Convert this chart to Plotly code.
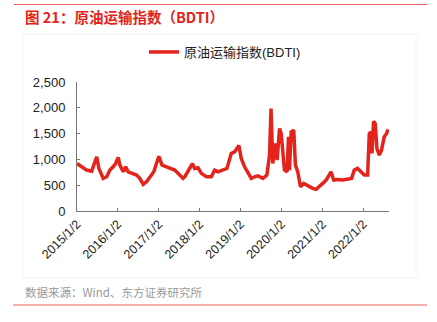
import plotly.graph_objects as go

dates = [
    "2015-01-02", "2015-02-13", "2015-03-29", "2015-05-13", "2015-06-02", "2015-06-27",
    "2015-07-17", "2015-08-24", "2015-09-24", "2015-10-23", "2015-11-21", "2015-12-13",
    "2016-01-05", "2016-01-20", "2016-02-19", "2016-03-11", "2016-04-03", "2016-05-18",
    "2016-06-17", "2016-07-16", "2016-08-15", "2016-09-14", "2016-10-13", "2016-11-18",
    "2016-12-12", "2017-01-02", "2017-01-31", "2017-03-11", "2017-04-25", "2017-05-24",
    "2017-07-08", "2017-08-06", "2017-08-21", "2017-09-29", "2017-10-29", "2017-11-18",
    "2017-12-18", "2018-01-17", "2018-03-03", "2018-04-16", "2018-05-16", "2018-06-14",
    "2018-07-29", "2018-09-02", "2018-10-11", "2018-11-10", "2018-12-18", "2019-01-08",
    "2019-02-07", "2019-03-08", "2019-04-08", "2019-05-07", "2019-06-05", "2019-07-20",
    "2019-08-25", "2019-09-18", "2019-10-01", "2019-10-17", "2019-11-07", "2019-11-25",
    "2019-12-16", "2019-12-31", "2020-01-14", "2020-01-29", "2020-02-22", "2020-03-05",
    "2020-03-14", "2020-03-29", "2020-04-21", "2020-05-06", "2020-05-27", "2020-06-20",
    "2020-07-19", "2020-08-24", "2020-10-07", "2020-11-07", "2020-12-06", "2021-01-05",
    "2021-02-04", "2021-03-05", "2021-03-20", "2021-04-13", "2021-05-18", "2021-07-02",
    "2021-08-15", "2021-09-20", "2021-10-14", "2021-11-12", "2021-12-13", "2022-01-11",
    "2022-02-10", "2022-02-25", "2022-03-12", "2022-03-21", "2022-04-04", "2022-04-19",
    "2022-05-04", "2022-05-25", "2022-06-14", "2022-07-08", "2022-07-29", "2022-08-13",
]
bdti = [
    920, 857, 793, 773, 920, 1050,
    825, 632, 663, 793, 857, 920,
    1040, 889, 760, 857, 760, 729,
    696, 632, 516, 567, 663, 760,
    920, 1060, 889, 857, 825, 793,
    696, 632, 663, 825, 920, 825,
    837, 729, 663, 663, 793, 760,
    793, 825, 1115, 1146, 1270, 1019,
    857, 760, 632, 663, 682, 632,
    696, 1083, 1985, 920, 1309, 986,
    1599, 1502, 1115, 793, 760, 1436,
    793, 1533, 1566, 889, 760, 470,
    535, 483, 438, 419, 470, 535,
    599, 729, 760, 599, 612, 599,
    612, 632, 793, 825, 760, 696,
    696, 1502, 1533, 1115, 1740, 1695,
    1212, 1083, 1179, 1436, 1502, 1579,
]

tick_vals = ["2015-01-02", "2016-01-02", "2017-01-02", "2018-01-02",
             "2019-01-02", "2020-01-02", "2021-01-02", "2022-01-02"]
tick_text = ["2015/1/2", "2016/1/2", "2017/1/2", "2018/1/2",
             "2019/1/2", "2020/1/2", "2021/1/2", "2022/1/2"]
y_ticks = [0, 500, 1000, 1500, 2000, 2500]

W, H = 437, 322
L, R, T, B = 77, 389, 82, 211  # plot area in pixels


def px(x):
    return (x - L) / (R - L)


def py(y):
    return (B - y) / (B - T)


RED = "#e3231c"
CJK = "Noto Sans CJK SC"
LAT = "Liberation Sans, Arial, Noto Sans CJK SC"

fig = go.Figure()
fig.add_trace(go.Scatter(
    x=dates, y=bdti, mode="lines", name="原油运输指数(BDTI)",
    line=dict(color=RED, width=3.5),
))

fig.update_layout(
    width=W, height=H,
    margin=dict(l=L, r=W - R, t=T, b=H - B, pad=0),
    paper_bgcolor="white", plot_bgcolor="white",
    showlegend=True,
    legend=dict(orientation="h", x=px(225), xanchor="center", y=py(52), yanchor="middle",
                font=dict(family=LAT, size=13, color="#222"),
                bgcolor="rgba(0,0,0,0)", itemwidth=30),
    xaxis=dict(
        type="date", range=["2015-01-02", "2022-08-20"],
        tickvals=tick_vals, ticktext=tick_text, tickangle=-45,
        showgrid=False, zeroline=False,
        showline=True, linecolor="#777", linewidth=1,
        ticks="inside", ticklen=3, tickcolor="#777",
        tickfont=dict(family=LAT, size=12.5, color="#222"),
    ),
    yaxis=dict(
        range=[0, 2500], tickvals=y_ticks, tickformat=",",
        showgrid=False, zeroline=False,
        showline=True, linecolor="#777", linewidth=1,
        ticks="inside", ticklen=3, tickcolor="#777",
        tickfont=dict(family=LAT, size=13, color="#222"),
        ticklabelstandoff=8,
    ),
    shapes=[
        dict(type="line", xref="paper", yref="paper", x0=px(14), x1=px(427),
             y0=py(4.5), y1=py(4.5), line=dict(color="#e8605a", width=1.2)),
        dict(type="line", xref="paper", yref="paper", x0=px(13), x1=px(427),
             y0=py(305), y1=py(305), line=dict(color="#e8605a", width=1.2)),
        dict(type="rect", xref="paper", yref="paper", x0=px(23), x1=px(416),
             y0=py(278), y1=py(34), line=dict(color="#f3f3f3", width=1),
             fillcolor="rgba(0,0,0,0)", layer="below"),
    ],
    annotations=[
        dict(text="<b>图 21：原油运输指数（BDTI）</b>", xref="paper", yref="paper",
             x=px(23), y=py(16), xanchor="left", yanchor="middle", showarrow=False,
             font=dict(family=CJK, size=14.5, color=RED)),
        dict(text="数据来源：Wind、东方证券研究所", xref="paper", yref="paper",
             x=px(23), y=py(292), xanchor="left", yanchor="middle", showarrow=False,
             font=dict(family=CJK, size=11.5, color="#999")),
    ],
)

fig.write_html("out.html")
